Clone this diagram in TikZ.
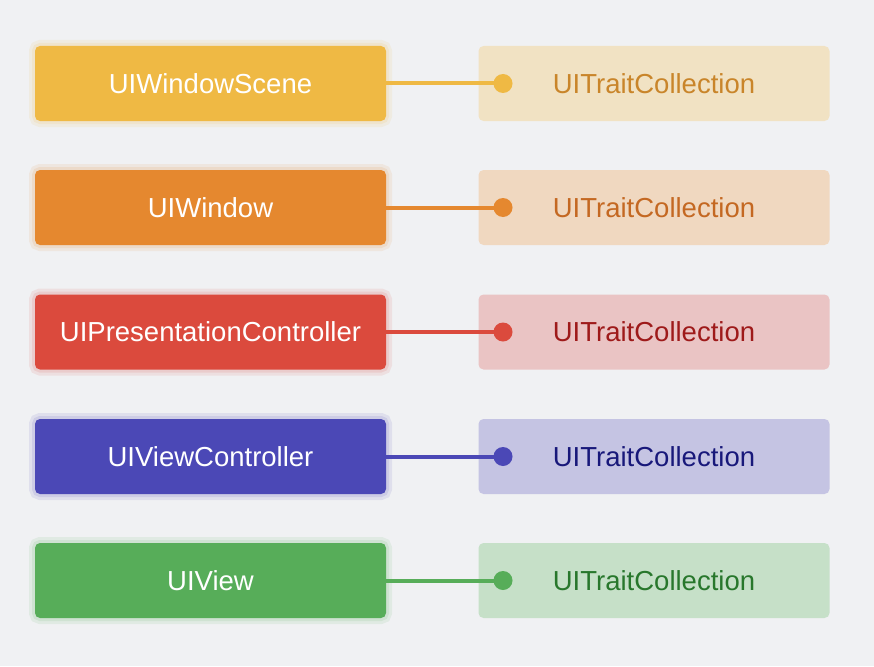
\documentclass[tikz,border=0pt]{standalone}
\usepackage{fontspec}
\setmainfont{Liberation Sans}
\usepackage{xcolor}
\usetikzlibrary{positioning}
\definecolor{figBack}{HTML}{F0F1F3}
\definecolor{figYellow}{HTML}{EFB944}
\definecolor{figYellowLt}{HTML}{F1E2C3}
\definecolor{figYellowTx}{HTML}{C9852A}
\definecolor{figOrange}{HTML}{E5882F}
\definecolor{figOrangeLt}{HTML}{F0D8C0}
\definecolor{figOrangeTx}{HTML}{C46822}
\definecolor{figRed}{HTML}{DB4A3D}
\definecolor{figRedLt}{HTML}{EAC4C4}
\definecolor{figRedTx}{HTML}{9E1A1A}
\definecolor{figBlue}{HTML}{4B48B6}
\definecolor{figBlueLt}{HTML}{C5C4E3}
\definecolor{figBlueTx}{HTML}{18187A}
\definecolor{figGreen}{HTML}{57AD59}
\definecolor{figGreenLt}{HTML}{C6E0C8}
\definecolor{figGreenTx}{HTML}{28772C}

\begin{document}
\begin{tikzpicture}[
  x=1pt, y=-1pt,
  owner/.style={
    rectangle, rounded corners=5pt,
    minimum width=351pt, minimum height=75pt,
    inner sep=0pt, text=white, fill=#1,
    preaction={draw=#1, draw opacity=0.10, line width=12pt},
    preaction={draw=#1, draw opacity=0.12, line width=6pt},
    font=\fontsize{27.5}{33}\selectfont
  },
  traits/.style={
    rectangle, rounded corners=5pt,
    minimum width=351pt, minimum height=75pt,
    inner sep=0pt,
    font=\fontsize{27.5}{33}\selectfont
  },
  dot/.style={circle, minimum size=19pt, inner sep=0pt},
  link/.style={line width=4pt}
]

% background
\fill[figBack] (0,0) rectangle (874,666);
\useasboundingbox (0,0) rectangle (874,666);

% Window scene
\node[owner=figYellow] (scene) at (210.5,83.5) {UIWindowScene};
\node[traits, fill=figYellowLt, text=figYellowTx] (sceneT) at (654,83.5) {UITraitCollection};
\node[dot, fill=figYellow] (sceneDot) at (503,83.5) {};

% Window
\node[owner=figOrange] (window) at (210.5,207.5) {UIWindow};
\node[traits, fill=figOrangeLt, text=figOrangeTx] (windowT) at (654,207.5) {UITraitCollection};
\node[dot, fill=figOrange] (windowDot) at (503,207.5) {};

% Presentation controller
\node[owner=figRed] (present) at (210.5,332) {UIPresentationController};
\node[traits, fill=figRedLt, text=figRedTx] (presentT) at (654,332) {UITraitCollection};
\node[dot, fill=figRed] (presentDot) at (503,332) {};

% View controller
\node[owner=figBlue] (vc) at (210.5,456.5) {UIViewController};
\node[traits, fill=figBlueLt, text=figBlueTx] (vcT) at (654,456.5) {UITraitCollection};
\node[dot, fill=figBlue] (vcDot) at (503,456.5) {};

% View
\node[owner=figGreen] (view) at (210.5,580.5) {UIView};
\node[traits, fill=figGreenLt, text=figGreenTx] (viewT) at (654,580.5) {UITraitCollection};
\node[dot, fill=figGreen] (viewDot) at (503,580.5) {};

% Links
\draw[link, figYellow] (scene.east) -- (sceneDot.center);
\draw[link, figOrange] (window.east) -- (windowDot.center);
\draw[link, figRed] (present.east) -- (presentDot.center);
\draw[link, figBlue] (vc.east) -- (vcDot.center);
\draw[link, figGreen] (view.east) -- (viewDot.center);

\end{tikzpicture}
\end{document}
